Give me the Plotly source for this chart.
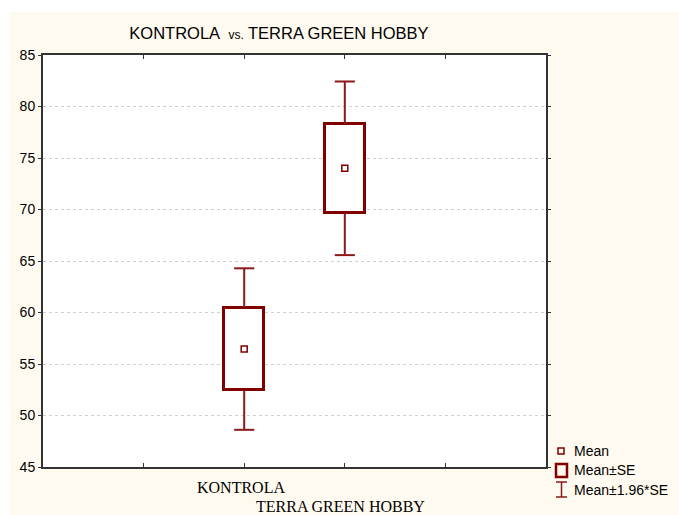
import plotly.graph_objects as go

# ---- data ----
groups = ["KONTROLA", "TERRA GREEN HOBBY"]
means = [56.45, 74.0]
se = [4.0, 4.3]
positions = [2, 3]          # category slots on the x axis (0..5)
y_ticks = [45, 50, 55, 60, 65, 70, 75, 80, 85]

W, H = 679, 515
L, R, T, B = 43, 546, 55, 467   # plot area in pixels

def px_x(px):
    return (px - L) / (R - L)

def px_y(py):
    return (B - py) / (B - T)

DARK = "#800000"
WHISK = "#8B1A1A"

fig = go.Figure()

# whiskers (Mean±1.96*SE) drawn as segments outside the box
wx, wy = [], []
for p, m, s in zip(positions, means, se):
    hi, lo = m + 1.96 * s, m - 1.96 * s
    wx += [p, p, None, p, p, None, p - 0.1, p + 0.1, None, p - 0.1, p + 0.1, None]
    wy += [m + s, hi, None, m - s, lo, None, hi, hi, None, lo, lo, None]
fig.add_trace(go.Scatter(x=wx, y=wy, mode="lines",
                         line=dict(color=WHISK, width=2), hoverinfo="skip",
                         showlegend=False))

# boxes (Mean±SE)
fig.add_trace(go.Bar(x=positions, y=[2 * s for s in se],
                     base=[m - s for m, s in zip(means, se)],
                     width=0.4,
                     marker=dict(color="white", line=dict(color=DARK, width=3)),
                     showlegend=False))

# means
fig.add_trace(go.Scatter(x=positions, y=means, mode="markers",
                         marker=dict(symbol="square-open", size=6, color=DARK,
                                     line=dict(width=1.5, color=DARK)),
                         showlegend=False))

shapes = []
annotations = []

# white band at top and left of the cream panel
shapes.append(dict(type="rect", xref="paper", yref="paper",
                   x0=px_x(-5), x1=px_x(W + 5), y0=px_y(12), y1=px_y(-5),
                   fillcolor="white", line=dict(width=0), layer="below"))
shapes.append(dict(type="rect", xref="paper", yref="paper",
                   x0=px_x(-5), x1=px_x(10), y0=px_y(H + 5), y1=px_y(-5),
                   fillcolor="white", line=dict(width=0), layer="below"))

# category labels, staggered, serif
label_y = [487, 506]
label_cx = [241, 340]
for g, p, ly, cx in zip(groups, positions, label_y, label_cx):
    annotations.append(dict(text=g, x=p, xref="x", y=px_y(ly), yref="paper",
                            xshift=(cx - (L + p * (R - L) / 5)),
                            showarrow=False, xanchor="center", yanchor="middle",
                            font=dict(family="Liberation Serif", size=16, color="black")))

# legend (manual)
lf = dict(family="Liberation Sans", size=14, color="black")
annotations.append(dict(text="Mean", x=px_x(572), y=px_y(451), xref="paper", yref="paper",
                        showarrow=False, xanchor="left", yanchor="middle", font=lf))
annotations.append(dict(text="Mean±SE", x=px_x(572), y=px_y(470), xref="paper", yref="paper",
                        showarrow=False, xanchor="left", yanchor="middle", font=lf))
annotations.append(dict(text="Mean±1.96*SE", x=px_x(572), y=px_y(490), xref="paper", yref="paper",
                        showarrow=False, xanchor="left", yanchor="middle", font=lf))
# Mean symbol
shapes.append(dict(type="rect", xref="paper", yref="paper",
                   x0=px_x(558), x1=px_x(564), y0=px_y(454), y1=px_y(448),
                   line=dict(color=DARK, width=1.5), fillcolor="rgba(0,0,0,0)"))
# Mean±SE symbol
shapes.append(dict(type="rect", xref="paper", yref="paper",
                   x0=px_x(556), x1=px_x(567), y0=px_y(477), y1=px_y(464),
                   line=dict(color=DARK, width=2.5), fillcolor="rgba(0,0,0,0)"))
# Mean±1.96*SE symbol (I)
for (x0, y0, x1, y1) in [(561.5, 482, 561.5, 497), (556, 482, 567, 482), (556, 497, 567, 497)]:
    shapes.append(dict(type="line", xref="paper", yref="paper",
                       x0=px_x(x0), x1=px_x(x1), y0=px_y(y0), y1=px_y(y1),
                       line=dict(color=WHISK, width=1.5)))

fig.update_layout(
    width=W, height=H,
    margin=dict(l=L, r=W - R, t=T, b=H - B, pad=0),
    paper_bgcolor="#FFFAEF",
    plot_bgcolor="white",
    showlegend=False,
    bargap=0,
    font=dict(family="Liberation Sans", size=14, color="black"),
    title=dict(text="KONTROLA  <span style='font-size:12px'>vs.</span> TERRA GREEN HOBBY",
               x=279 / W, xref="container", xanchor="center",
               y=1 - 33 / H, yref="container", yanchor="middle",
               font=dict(family="Liberation Sans", size=16.5, color="black")),
    shapes=shapes,
    annotations=annotations,
)

fig.update_xaxes(range=[0, 5], tickvals=[1, 2, 3, 4], showticklabels=False,
                 ticks="inside", ticklen=4, tickcolor="#333", tickwidth=1,
                 showgrid=False, zeroline=False,
                 showline=True, linecolor="#333", linewidth=2, mirror="ticks")
fig.update_yaxes(range=[45, 85], tickvals=y_ticks, ticks="outside", ticklen=3,
                 tickcolor="#333", tickwidth=1,
                 showgrid=True, gridcolor="#D0D0D0", griddash="dot", gridwidth=1,
                 zeroline=False, showline=True, linecolor="#333", linewidth=2, mirror="ticks",
                 tickfont=dict(family="Liberation Sans", size=14, color="black"))

fig.write_html("out.html", config={"displayModeBar": False},
               post_script="document.body.style.margin='0';document.body.style.overflow='hidden';")
